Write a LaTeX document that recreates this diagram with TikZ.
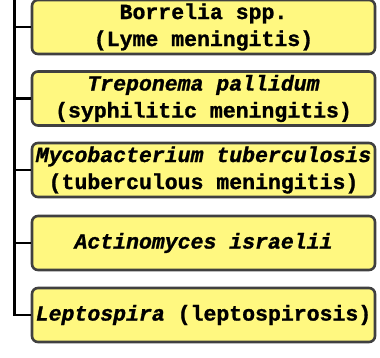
\documentclass[tikz,border=0pt]{standalone}
\usepackage{fontspec}
\setmonofont{Liberation Mono}[BoldFeatures={FakeBold=1.2},BoldItalicFeatures={FakeBold=1.2}]
\begin{document}
\begin{tikzpicture}[x=1pt,y=-1pt,
  box/.style={draw=black!75, line width=2.6pt, fill=yellow!50, rounded corners=6pt,
    minimum width=343pt, minimum height=54pt, align=center, inner sep=0pt,
    font=\ttfamily\bfseries\fontsize{21.5}{27}\selectfont},
  trunk/.style={line width=2.8pt, black}]
\useasboundingbox (0,0) rectangle (380,357);
\node[box] (b1) at (203.5,27) {Borrelia spp.\\(Lyme meningitis)};
\node[box] (b2) at (203.5,98.5) {\textit{Treponema pallidum}\\(syphilitic meningitis)};
\node[box] (b3) at (203.5,170) {\textit{Mycobacterium tuberculosis}\\(tuberculous meningitis)};
\node[box] (b4) at (203.5,243) {\textit{Actinomyces israelii}};
\node[box] (b5) at (203.5,315) {\textit{Leptospira} (leptospirosis)};
\coordinate (top) at (14.5,-2);
\draw[trunk] (top) |- (b5.west);
\draw[trunk] (b1.west) -- (b1.west -| top);
\draw[trunk] (b2.west) -- (b2.west -| top);
\draw[trunk] (b3.west) -- (b3.west -| top);
\draw[trunk] (b4.west) -- (b4.west -| top);
\end{tikzpicture}
\end{document}
